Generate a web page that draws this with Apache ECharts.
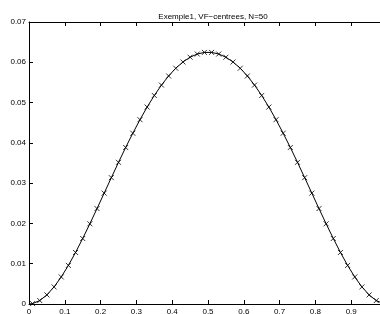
<!DOCTYPE html>
<html><head><meta charset="utf-8">
<script src="https://cdn.jsdelivr.net/npm/echarts@6/dist/echarts.min.js"></script>
<style>html,body{margin:0;padding:0;background:#fff}#c{width:380px;height:314px}</style>
</head><body><div id="c"></div>
<script>
const titleText = 'Exemple1, VF\u2212centrees, N=50';
const xCentres = [0.01,0.03,0.05,0.07,0.09,0.11,0.13,0.15,0.17,0.19,0.21,0.23,0.25,0.27,0.29,0.31,0.33,0.35,0.37,0.39,0.41,0.43,0.45,0.47,0.49,
  0.51,0.53,0.55,0.57,0.59,0.61,0.63,0.65,0.67,0.69,0.71,0.73,0.75,0.77,0.79,0.81,0.83,0.85,0.87,0.89,0.91,0.93,0.95,0.97,0.99];
const uValues = [0.0001,0.00085,0.00226,0.00424,0.00671,0.00958,0.01279,0.01626,0.01991,0.02369,0.02752,0.03136,0.03516,0.03885,0.04239,0.04575,0.04889,0.05176,0.05434,0.0566,0.05852,0.06007,0.06126,0.06205,0.06245,
  0.06245,0.06205,0.06126,0.06007,0.05852,0.0566,0.05434,0.05176,0.04889,0.04575,0.04239,0.03885,0.03516,0.03136,0.02752,0.02369,0.01991,0.01626,0.01279,0.00958,0.00671,0.00424,0.00226,0.00085,0.0001];
const boundaryX = [0, 1];
const boundaryU = [0, 0];
const xTicks = ['0','0.1','0.2','0.3','0.4','0.5','0.6','0.7','0.8','0.9','1'];
const yTicks = ['0','0.01','0.02','0.03','0.04','0.05','0.06','0.07'];

const pts = xCentres.map((x,i)=>[x,uValues[i]]);
const linePts = [[boundaryX[0],boundaryU[0]]].concat(pts,[[boundaryX[1],boundaryU[1]]]);
const font = 'Liberation Sans, Arial, Helvetica, sans-serif';
const chart = echarts.init(document.getElementById('c'), null, {renderer:'canvas'});
const axisCommon = {
  axisLine:{show:true,onZero:false,lineStyle:{color:'#000',width:1}},
  axisTick:{show:true,inside:true,length:4,lineStyle:{color:'#000',width:1}},
  splitLine:{show:false}
};
chart.setOption({
  animation:false,
  backgroundColor:'#fff',
  title:{text:titleText,left:208,top:8,textAlign:'center',
    textStyle:{fontFamily:font,fontSize:8,fontWeight:'normal',color:'#000'}},
  grid:{left:29,top:22,width:358,height:282,containLabel:false,outerBoundsMode:'none'},
  xAxis:[
    Object.assign({type:'value',min:0,max:1,interval:0.1,position:'bottom',
      axisLabel:{fontFamily:font,fontSize:8,color:'#000',margin:4,
        formatter:v=>xTicks[Math.round(v*10)]}},axisCommon),
    Object.assign({type:'value',min:0,max:1,interval:0.1,position:'top',
      axisLabel:{show:false}},axisCommon)
  ],
  yAxis:[
    Object.assign({type:'value',min:0,max:0.07,interval:0.01,position:'left',
      axisLabel:{fontFamily:font,fontSize:8,color:'#000',margin:3,
        formatter:v=>yTicks[Math.round(v*100)]}},axisCommon),
    Object.assign({type:'value',min:0,max:0.07,interval:0.01,position:'right',
      axisLabel:{show:false}},axisCommon)
  ],
  series:[
    {type:'line',data:linePts,showSymbol:false,smooth:false,
      lineStyle:{color:'#000',width:1},silent:true},
    {type:'scatter',data:pts,symbol:'path://M0,0L10,10M10,0L0,10',symbolSize:5,
      itemStyle:{color:'none',borderColor:'#000',borderWidth:1}}
  ]
});
</script></body></html>
